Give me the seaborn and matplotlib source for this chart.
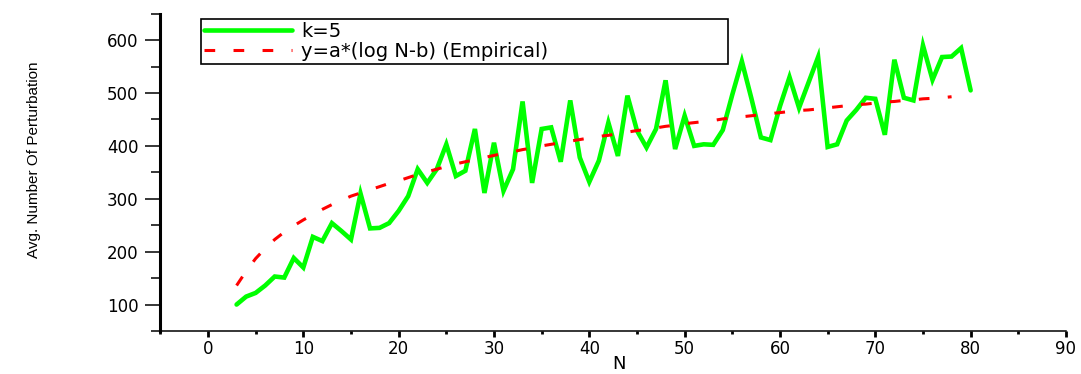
import matplotlib
matplotlib.use("Agg")
import matplotlib.pyplot as plt
from matplotlib.ticker import MultipleLocator
import seaborn as sns

# Network size N and average number of perturbations for k=5
n_values = list(range(3, 81))
perturbations_k5 = [
    100, 115, 122, 136, 153, 151, 188, 170, 228, 220,
    254, 239, 223, 310, 244, 245, 254, 277, 305, 356,
    330, 356, 403, 343, 353, 432, 311, 406, 315, 356,
    484, 330, 432, 435, 370, 486, 378, 332, 372, 444,
    381, 495, 429, 397, 432, 524, 394, 457, 400, 403,
    402, 430, 497, 560, 490, 416, 411, 475, 530, 472,
    520, 568, 398, 403, 448, 468, 491, 489, 421, 563,
    491, 486, 590, 525, 568, 569, 585, 505,
]

# Empirical logarithmic fit curve
n_fit = list(range(3, 79))
fit_values = [
    136, 163, 187, 206, 223, 237, 249, 260, 270, 280,
    289, 297, 305, 311, 317, 323, 329, 334, 340, 346,
    351, 356, 361, 366, 370, 374, 378, 382, 386, 389,
    393, 396, 400, 403, 406, 409, 412, 415, 418, 420,
    423, 426, 429, 431, 434, 437, 439, 442, 444, 446,
    448, 451, 453, 455, 457, 459, 461, 463, 465, 467,
    468, 470, 472, 474, 476, 478, 479, 481, 483, 484,
    486, 487, 489, 490, 491, 493,
]

x_ticks = list(range(0, 100, 10))
y_ticks = list(range(100, 700, 100))

sns.set_style("ticks")
plt.rcParams["font.family"] = ["DejaVu Sans"]
plt.rcParams["text.color"] = "black"
plt.rcParams["axes.labelcolor"] = "black"

fig, ax = plt.subplots(figsize=(10.81, 3.74), dpi=100)
fig.subplots_adjust(left=0.1483, right=0.9861, bottom=0.115, top=0.9634)

sns.lineplot(x=n_values, y=perturbations_k5, ax=ax, color="#00ff00",
             linewidth=3.3, label="k=5", zorder=2,
             solid_joinstyle="miter")
sns.lineplot(x=n_fit, y=fit_values, ax=ax, color="#ff0000",
             linewidth=2.2, linestyle=(0, (3.5, 6.0)),
             label="y=a*(log N-b) (Empirical)", zorder=3)

ax.set_xlim(-5, 90)
ax.set_ylim(50, 650)
ax.set_xticks(x_ticks)
ax.set_yticks(y_ticks)
ax.xaxis.set_minor_locator(MultipleLocator(5))
ax.yaxis.set_minor_locator(MultipleLocator(50))

for side in ("top", "right"):
    ax.spines[side].set_visible(False)
ax.spines["left"].set_linewidth(2.2)
ax.spines["bottom"].set_linewidth(1.1)
ax.spines["left"].set_color("black")
ax.spines["bottom"].set_color("black")

ax.tick_params(axis="y", which="major", direction="out", length=10.8,
               width=1.1, pad=5, labelsize=12, colors="black")
ax.tick_params(axis="y", which="minor", direction="out", length=6.5,
               width=1.1, colors="black")
ax.tick_params(axis="x", which="major", direction="out", length=4.5,
               width=2.0, pad=2, labelsize=12, colors="black")
ax.tick_params(axis="x", which="minor", direction="out", length=2.5,
               width=2.0, colors="black")

ax.set_ylabel("Avg. Number Of Perturbation", fontsize=11,
              family=["Liberation Sans"], color="black")
ax.yaxis.set_label_coords(-0.1315, 0.54)
ax.set_xlabel("N", fontsize=13, color="black")
ax.xaxis.set_label_coords(0.507, -0.0756)

leg = ax.legend(loc="upper left", bbox_to_anchor=(0.0453, 0.5, 0.581, 0.484),
                mode="expand", borderaxespad=0, fontsize=14, frameon=True,
                fancybox=False, shadow=False, framealpha=1,
                edgecolor="black", borderpad=0.15, labelspacing=0.05,
                handlelength=4.5, handletextpad=0.5, labelcolor="black")
leg.get_frame().set_linewidth(1.2)

fig.savefig("out.png", dpi=100)
